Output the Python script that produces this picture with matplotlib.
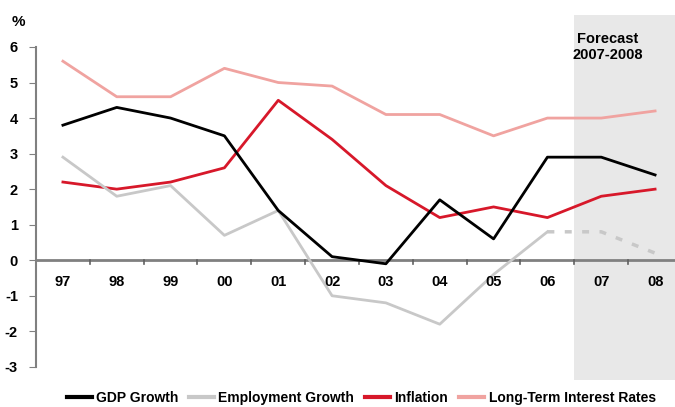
import matplotlib.pyplot as plt
import numpy as np

plt.rcParams['font.family'] = ['Liberation Sans', 'DejaVu Sans']
plt.rcParams['font.weight'] = 'bold'
plt.rcParams['axes.unicode_minus'] = False

years = ["97", "98", "99", "00", "01", "02", "03", "04", "05", "06", "07", "08"]
gdp = [3.8, 4.3, 4.0, 3.5, 1.4, 0.1, -0.1, 1.7, 0.6, 2.9, 2.9, 2.4]
employment = [2.9, 1.8, 2.1, 0.7, 1.4, -1.0, -1.2, -1.8, -0.4, 0.8, 0.8, 0.2]
inflation = [2.2, 2.0, 2.2, 2.6, 4.5, 3.4, 2.1, 1.2, 1.5, 1.2, 1.8, 2.0]
interest = [5.6, 4.6, 4.6, 5.4, 5.0, 4.9, 4.1, 4.1, 3.5, 4.0, 4.0, 4.2]

c_gdp = "#000000"
c_emp = "#c8c8c8"
c_inf = "#d7182a"
c_int = "#f0a3a0"

fig = plt.figure(figsize=(6.75, 4.07), dpi=100)
ax = fig.add_axes([36/675, 1-380/407, 1-36/675, (380-15)/407])
x = np.arange(len(years))

# forecast band
ax.axvspan(9.5, 12, color="#e8e8e8", zorder=0, lw=0)
ax.text(10.12, 6.0, "Forecast\n2007-2008", ha="center", va="center", fontsize=10.5,
        fontweight="bold", linespacing=1.25)

ax.axhline(0, color="#808080", lw=2, zorder=1)
for xt in np.arange(0.5, 11, 1):
    ax.plot([xt, xt], [0, -0.12], color="#606060", lw=1.2, zorder=1)

ax.plot(x, interest, color=c_int, lw=2, zorder=3)
ax.plot(x, inflation, color=c_inf, lw=2, zorder=3)
ax.plot(x[:10], employment[:10], color=c_emp, lw=2, zorder=3)
ax.plot(x[9:], employment[9:], color=c_emp, lw=2.5, ls=(0, (2, 3)), zorder=3)
ax.plot(x, gdp, color=c_gdp, lw=2, zorder=4)

for i, y in enumerate(years):
    ax.text(i, -0.6, y, ha="center", va="center", fontsize=10.5, fontweight="bold")

ax.set_xlim(-0.5, 11.37)
ax.set_ylim(-3.37, 6.9)
ax.set_xticks([])
ax.set_yticks(range(-3, 7))
ax.tick_params(axis="y", length=5, color="#808080", labelsize=10.5, pad=8)
for s in ["top", "right", "bottom"]:
    ax.spines[s].set_visible(False)
ax.spines["left"].set_bounds(-3, 6)
ax.spines["left"].set_color("#808080")
ax.spines["left"].set_linewidth(1.5)

fig.text(18/675, 1-22/407, "%", ha="center", va="center", fontsize=11, fontweight="bold")

handles = [plt.Line2D([], [], color=c, lw=3) for c in [c_gdp, c_emp, c_inf, c_int]]
labels = ["GDP Growth", "Employment Growth", "Inflation", "Long-Term Interest Rates"]
fig.legend(handles, labels, loc="center", bbox_to_anchor=(0.535, 1-398/407), ncol=4,
           frameon=False, fontsize=10, handlelength=1.8, handletextpad=0.3, columnspacing=0.8)

fig.savefig("out.png", dpi=100)
